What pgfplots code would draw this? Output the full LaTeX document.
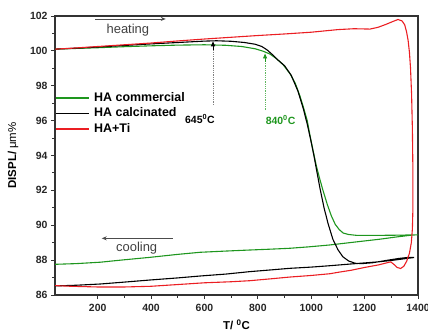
\documentclass[border=0pt]{standalone}
\usepackage{fontspec}
\setmainfont{Liberation Sans}
\usepackage{pgfplots}
\pgfplotsset{compat=1.18}
\usetikzlibrary{arrows.meta}
\definecolor{mygreen}{RGB}{30,150,30}
\definecolor{myred}{RGB}{235,30,35}
\begin{document}
\begin{tikzpicture}
\begin{axis}[
  name=ax,
  scale only axis, width=363bp, height=279bp,
  xmin=40, xmax=1400, ymin=86, ymax=102,
  xtick={200,400,...,1400}, ytick={86,88,...,102},
  minor x tick num=1, minor y tick num=1,
  tick align=outside, xtick pos=lower, ytick pos=left,
  major tick length=4bp, minor tick length=2.5bp,
  axis line style={line width=1.1pt, black!80},
  tick style={line width=0.9pt, black!80},
  /pgf/number format/assume math mode=true,
  /pgf/number format/1000 sep={},
  ticklabel style={font=\fontsize{10.5}{12}\selectfont\bfseries, text=black!85},
  xticklabel style={yshift=-2bp},
  xlabel={\textbf{T/ \textsuperscript{0}C}},
  ylabel={\textbf{DISPL/} μm\%},
  xlabel style={font=\fontsize{11.5}{13}\selectfont, at={(axis description cs:0.5,0)}, anchor=center, yshift=-30bp},
  ylabel style={font=\fontsize{11.5}{13}\selectfont, at={(axis description cs:0,0.5)}, anchor=center, rotate=0, yshift=42bp},
  legend cell align=left,
  legend style={draw=none, fill=none, at={(rel axis cs:0,0.727)}, anchor=north west,
    inner xsep=0pt, inner ysep=0pt, row sep=4bp,
    font=\fontsize{12.5}{14}\selectfont\bfseries,
    nodes={inner sep=0pt, text height=9bp, text depth=2.5bp},
    /tikz/every odd column/.append style={column sep=4.5bp}},
  legend image code/.code={\draw[#1, line width=1.5pt] (0bp,0bp) -- (33bp,0bp);},
  every axis plot/.append style={line width=1.1pt},
]
\addplot[mygreen] coordinates {
(40,100.10) (100,100.13) (200,100.18) (300,100.24) (400,100.29) (500,100.33) (600,100.35) (680,100.32) (740,100.25) (790,100.12) (820,99.98) (845,99.82) (870,99.55) (895,99.2) (920,98.7) (940,98.15) (958,97.4) (972,96.7) (985,96.0) (996,95.1) (1008,94.2) (1020,93.35) (1032,92.65) (1044,92.0) (1060,91.2) (1075,90.55) (1090,90.05) (1105,89.75) (1120,89.55) (1140,89.47) (1170,89.42) (1250,89.42) (1320,89.43) (1400,89.45)
(1380,89.44) (1320,89.33) (1257,89.2) (1160,89.03) (1070,88.87) (990,88.76) (920,88.68) (850,88.63) (770,88.58) (680,88.52) (584,88.45) (500,88.33) (396,88.16) (300,88.02) (209,87.88) (120,87.8) (40,87.76)
};
\addlegendentry{HA commercial}
\addplot[black] coordinates {
(40,100.10) (100,100.14) (200,100.22) (300,100.31) (400,100.40) (500,100.48) (600,100.56) (645,100.58) (700,100.55) (750,100.48) (790,100.38) (815,100.25) (835,100.05) (855,99.78) (875,99.48) (900,99.15) (925,98.6) (950,97.7) (970,96.7) (985,95.8) (998,94.9) (1010,94.0) (1022,93.0) (1033,92.1) (1048,91.0) (1063,90.1) (1081,89.2) (1100,88.6) (1118,88.2) (1140,87.95) (1165,87.82) (1190,87.8) (1230,87.85) (1280,87.98) (1330,88.1) (1360,88.15) (1385,88.15)
(1340,88.06) (1300,87.98) (1250,87.9) (1150,87.78) (1070,87.68) (1000,87.6) (920,87.53) (850,87.44) (770,87.34) (680,87.2) (584,87.09) (500,86.98) (396,86.86) (300,86.74) (209,86.63) (120,86.56) (40,86.52)
};
\addlegendentry{HA calcinated}
\addplot[myred] coordinates {
(40,100.10) (100,100.15) (200,100.25) (300,100.35) (400,100.45) (500,100.57) (600,100.68) (700,100.78) (800,100.88) (900,100.97) (1000,101.07) (1100,101.22) (1160,101.27) (1220,101.25) (1250,101.35) (1280,101.52) (1305,101.68) (1325,101.80) (1340,101.72) (1350,101.50) (1357,101.10) (1363,100.60) (1368,99.90) (1372,99.00) (1376,97.50) (1379,95.50) (1381,93.00) (1381,91.00) (1379,89.80) (1375,89.00) (1368,88.40) (1358,87.95) (1347,87.65) (1335,87.52) (1322,87.58) (1310,87.75) (1298,87.90)
(1250,87.72) (1200,87.58) (1150,87.42) (1100,87.30) (1070,87.22) (1000,87.12) (920,87.03) (850,86.93) (770,86.82) (700,86.76) (600,86.70) (500,86.60) (400,86.50) (300,86.46) (200,86.46) (100,86.50) (40,86.54)
};
\addlegendentry{HA+Ti}
% annotations
\draw[-{Stealth[length=5bp,width=4bp]}, line width=0.8pt, black!70] (axis cs:190,101.83) -- (axis cs:455,101.83);
\node[font=\fontsize{13}{15}\selectfont, text=black!75] at (axis cs:313,101.2) {heating};
\draw[-{Stealth[length=5bp,width=4bp]}, line width=0.8pt, black!70] (axis cs:482,89.25) -- (axis cs:215,89.25);
\node[font=\fontsize{13}{15}\selectfont, text=black!75] at (axis cs:346,88.7) {cooling};
\draw[densely dotted, black!50, line width=0.8pt] (axis cs:632,96.9) -- (axis cs:632,100.15);
\draw[-{Triangle[length=5bp,width=4bp]}, black, line width=0.8pt] (axis cs:632,100.05) -- (axis cs:632,100.55);
\draw[densely dotted, mygreen!70, line width=0.8pt] (axis cs:827,96.6) -- (axis cs:827,99.45);
\draw[-{Triangle[length=5bp,width=4bp]}, mygreen, line width=0.8pt] (axis cs:827,99.35) -- (axis cs:827,99.85);
\node[font=\fontsize{10.5}{12}\selectfont\bfseries] at (axis cs:583,96.09) {645\textsuperscript{0}C};
\node[font=\fontsize{10.5}{12}\selectfont\bfseries, text=mygreen] at (axis cs:885,96.04) {840\textsuperscript{0}C};
\coordinate (bl) at (rel axis cs:0,0);
\coordinate (tr) at (rel axis cs:1,1);
\end{axis}
\pgfresetboundingbox
\path[use as bounding box] ([shift={(-55bp,-36bp)}]bl) rectangle ([shift={(10bp,16bp)}]tr);
\end{tikzpicture}
\end{document}
